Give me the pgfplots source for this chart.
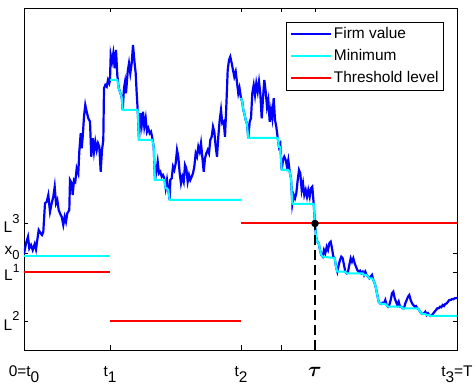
\documentclass[border=0pt]{standalone}
\usepackage{fontspec}
\setmainfont{Liberation Sans}
\usepackage{bm}
\usepackage{pgfplots}
\pgfplotsset{compat=1.18}
\definecolor{mblue}{RGB}{0,0,255}
\definecolor{mcyan}{RGB}{0,255,255}
\definecolor{mred}{RGB}{255,0,0}
\DeclareRobustCommand{\sbs}[1]{\raisebox{-6.5bp}{#1}}
\DeclareRobustCommand{\ysbs}[1]{\raisebox{-4.5bp}{\fontsize{13}{14}\selectfont #1}}
\DeclareRobustCommand{\sps}[1]{\raisebox{9.5bp}{\fontsize{13}{14}\selectfont #1}}
\DeclareRobustCommand{\spsl}[1]{\raisebox{8bp}{\fontsize{12}{13}\selectfont #1}}
\DeclareRobustCommand{\btau}{{\fontsize{20}{20}\selectfont$\bm{\tau}$}}
\begin{document}
\begin{tikzpicture}[font=\fontsize{15.5}{18}\selectfont]
\begin{axis}[
  at={(0,0)}, anchor=south west,
  scale only axis, width=433bp, height=342bp,
  xmin=0, xmax=433, ymin=0, ymax=342,
  axis line style={line width=0.8bp},
  tick style={line width=0.8bp, color=black},
  major tick length=4.5bp,
  xtick={0,86,217,257,291,433},
  xticklabels={0=t\sbs{0}, t\sbs{1}, t\sbs{2}, {}, \btau, t\sbs{3}=T},
  ytick={29,78,97,126.5},
  yticklabels={L\sps{2}, L\spsl{1}, x\ysbs{0}, L\sps{3}},
  tick label style={font=\fontsize{15.5}{18}\selectfont},
  xticklabel style={anchor=base, yshift=-26bp},
  yticklabel style={anchor=east, xshift=-1bp},
  legend style={at={(0.97,0.96)}, anchor=north east, draw=black, line width=0.8bp,
    font=\fontsize{15.5}{18}\selectfont, inner xsep=3bp, inner ysep=3bp, row sep=4bp,
    nodes={inner sep=2bp, text height=11bp, text depth=3bp}},
  legend cell align=left,
  legend image code/.code={\draw[#1] (0bp,0bp) -- (40bp,0bp);},
]
\addplot[mblue, line width=2.2bp] coordinates {
(0,96)(2,106.7)(4,113.3)(5.3,101.7)(7,105)(8.7,100)(10.7,106)(12,100.7)(13.3,110)(14.7,120)(16.7,116.7)(18,115)(19.3,118.3)(21,146.7)(22.7,148.3)(24.3,155)(26,138.3)(27.7,146.7)(29.3,153.3)(30.7,163.3)(32,146.7)(33.3,150)(34.7,140)(36,136.7)(37.7,133.3)(39.3,125)(40.7,133.3)(42,128.3)(43.3,136.7)(45.3,140)(46,170)(47.7,166.7)(48.7,155)(50,170)(51.3,168.3)(52.7,181.7)(54.3,176.7)(55.3,198.3)(56.7,216.7)(57.7,201.7)(58.7,213.3)(60,233.3)(61.3,245)(62.7,238.3)(64.3,231.7)(66,228.3)(67.3,193.3)(68.7,211.7)(70,198.3)(71.3,208.3)(72.7,200)(74,206.7)(75.3,203.3)(76.7,178.3)(78,200)(79.3,210)(80,261.7)(81.3,265)(82.7,263.3)(84,270)(85.3,266.7)
(86,270)(86.7,295)(88,288.3)(89.3,296.7)(90.7,281.7)(92,300)(93.3,275)(94.7,262)(96,258)(97.7,253)(98.7,240)(100,262)(101,268)(102,256.7)(103.7,278.3)(105,286.7)(106.3,276.7)(107.7,286.7)(109,305)(110.3,290)(111.7,276.7)(112.7,256.7)(113.7,240)(115,210)(116.3,236.7)(117.7,225)(119,238.3)(120.3,223.3)(121.7,231.7)(123,218.3)(124.3,221.7)(125.7,216.7)(127,218.3)(128.3,212)(129.7,203.3)(131,170)(132.3,178.3)(133.7,188.3)(135,176.7)(136.3,178.3)(137.7,173.3)(139,175)(140.3,171.7)(141.7,161.7)(143,170)(144.3,160)(145.7,150)(146.3,170)(147.7,171.7)(149,183.3)(150.3,180)(151.7,186.7)(153,200)(154.3,193.3)(155.7,176.7)(157,166.7)(158.3,173.3)(159.7,168.3)(161,185)(162.3,181.7)(163.7,168.3)(165,175)(166.3,170)(167.7,173.3)(169,176.7)(170.3,183.3)(171.7,196.7)(173,193.3)(174.3,203.3)(175.7,198.3)(177,206.7)(178.3,193.3)(179.7,178.3)(181,191.7)(182.3,196.7)(183.7,200)(185,196.7)(186.3,210)(187.7,213.3)(189,223.3)(190.3,218.3)(191.7,203.3)(193,193.3)(194.3,213.3)(195.7,230)(197,240)(198.3,226.7)(199.7,228.3)(201,213.3)(202.3,243.3)(203.7,280)(205,290)(206.3,293.3)(207.7,286.7)(209,280)(210.3,273.3)(211.7,278.3)(212.7,270)(214.3,256.7)(215.5,262)
(217,252)(218.3,248)(219.3,240)(220.3,236.7)(221.7,230)(223,226)(224.3,212)(225.7,228.3)(227,231.7)(228.3,256.7)(229.7,265)(231,255)(232.3,266.7)(233.7,258.3)(235,268.3)(236.3,256.7)(237.7,231.7)(239,251.7)(240.3,270)(241.7,258.3)(243,243.3)(244.3,250)(245.7,228.3)(247,240)(248.3,231.7)(249.7,251.7)(251,230)(252.3,223.3)(253.7,212)(255,203)(256.3,206)(257.7,180)(259,190)(260.3,193.3)(261.7,190)(263,183.3)(264.3,190)(265.7,178.3)(267,171.7)(268.3,146)(269.7,155)(271,151.7)(272.3,156.7)(273.7,170)(275,180)(276.3,176.7)(277.7,160)(279,166.7)(280.3,155)(281.7,160)(283,153.3)(284.3,160)(285.7,153.3)(287,161.7)(288.3,163.3)(289.7,146)(291,126.5)
(292,113.3)(293.3,108.3)(294.7,106.7)(296,100)(297.3,95)(298.7,93.3)(300,100)(301.3,96.7)(302.7,103.3)(304,100)(305.3,106.7)(306.7,108.3)(308,101.7)(309.3,93.3)(310.7,92)(312,83.3)(313.3,78.3)(314.7,85)(316,90)(317.3,93.3)(318.7,91.7)(320,85)(321.3,78.3)(322.7,76.7)(324,78.3)(325.3,85)(326.7,91.7)(328,88.3)(329.3,91.7)(330.7,86.7)(332,83.3)(333.3,80)(334.7,78.3)(336,79.3)(337.3,76.7)(338.7,78.3)(340,75)(341.3,78.3)(342.7,75)(344,73.3)(345.3,71.7)(346.7,73.3)(348,75)(349.3,70)(350.7,66.7)(352,61.7)(353.3,55)(354.7,48.3)(356,46.7)(357.3,46)(358.7,47.3)(360,46.7)(361.3,50)(362.7,45)(364,43.3)(365.3,45)(366.7,50)(368,56.7)(369.3,58.3)(370.7,51.7)(372,48.3)(373.3,45)(374.7,48.3)(376,43.3)(377.3,43.3)(378.7,41.7)(380,41.7)(381.3,46.7)(382.7,50)(384,53.3)(385.3,55)(386.7,50)(388,46.7)(389.3,45)(390.7,43.3)(392,44)(393.3,41.7)(394.7,40.7)(396,38.3)(397.3,36.7)(398.7,36)(400,36.7)(401.3,38.3)(402.7,35)(404,36.7)(405.3,35)(406.7,34)(408,35)(409.3,36.7)(410.7,38.3)(412,40)(413.3,41.7)(414.7,41.7)(416,43.3)(417.3,42.7)(418.7,45)(420,44)(421.3,46)(422.7,46.7)(424,48.3)(425.3,50)(426.7,50)(428,51)(429.3,50.7)(430.7,51.7)(433,52)
};
\addlegendentry{Firm value}
\addplot[mcyan, line width=2bp] coordinates {(0,94)(86,94)};
\addlegendentry{Minimum}
\addplot[mcyan, line width=2bp, forget plot] coordinates {
(86,270)(93.3,270)(94.7,262)(96,258)(97.7,253)(98.7,240)(113.7,240)(115,210)(128.3,210)(129.7,203.3)(131,170)(140.3,170)(141.7,161.7)(143,161.7)(144.3,160)(145.7,150)(217,150)
};
\addplot[mcyan, line width=2bp, forget plot] coordinates {
(217,252)(218.3,248)(219.3,240)(220.3,236.7)(221.7,230)(223,226)(224.3,212)(253.7,212)(255,203)(256.3,203)(257.7,180)(264.3,180)(265.7,178.3)(267,171.7)(268.3,146)(289.7,146)(291,126.5)(292,113.3)(293.3,108.3)(294.7,106.7)(296,100)(297.3,95)(298.7,93.3)(310.7,92)(312,83.3)(313.3,78.3)(321.3,78.3)(322.7,76.7)(338.7,76.7)(340,75)(342.7,75)(344,73.3)(345.3,71.7)(348,71.7)(349.3,70)(350.7,66.7)(352,61.7)(353.3,55)(354.7,48.3)(356,46.7)(357.3,46)(361.3,46)(362.7,45)(364,43.3)(377.3,43.3)(378.7,41.7)(393.3,41.7)(394.7,40.7)(396,38.3)(397.3,36.7)(398.7,36)(401.3,36)(402.7,35)(405.3,35)(406.7,34)(433,34)
};
\addplot[mred, line width=2bp] coordinates {(0,78)(86,78)};
\addlegendentry{Threshold level}
\addplot[mred, line width=2bp, forget plot] coordinates {(86,29)(217,29)};
\addplot[mred, line width=2bp, forget plot] coordinates {(217,126.5)(433,126.5)};
\addplot[black, line width=1.2bp, dash pattern=on 10bp off 5bp, forget plot] coordinates {(291,0)(291,126.5)};
\addplot[black, only marks, mark=*, mark size=3.5bp, forget plot] coordinates {(291,126.5)};
\end{axis}
\path (-24bp,-35bp) rectangle (452bp,350bp);
\end{tikzpicture}
\end{document}
